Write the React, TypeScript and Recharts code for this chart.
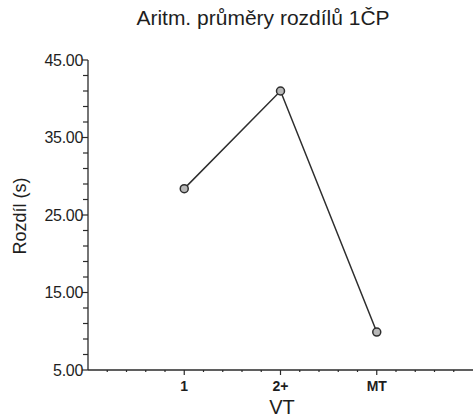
import React from 'react';
import { LineChart, Line, XAxis, YAxis } from 'recharts';

const categories = ['1', '2+', 'MT'];
const positions = [1, 2, 3];
const values = [28.4, 41.0, 9.9];
const yTicks = [5, 7, 9, 11, 13, 15, 17, 19, 21, 23, 25, 27, 29, 31, 33, 35, 37, 39, 41, 43, 45];
const yMajor = [5, 15, 25, 35, 45];
const xTicks = [0.2, 0.4, 0.6, 0.8, 1, 1.2, 1.4, 1.6, 1.8, 2, 2.2, 2.4, 2.6, 2.8, 3, 3.2, 3.4, 3.6, 3.8];
const xMajor = [1, 2, 3];
const title = 'Aritm. průměry rozdílů 1ČP';
const xTitle = 'VT';
const yTitle = 'Rozdíl (s)';

const data = positions.map((p, i) => ({ x: p, label: categories[i], value: values[i] }));

const FONT = '"Liberation Sans", Arial, sans-serif';
const AX = '#2a2a2a';
const TXT = '#1e1e1e';

const YTick = (props: any) => {
  const { x, y, payload } = props;
  const major = yMajor.includes(payload.value);
  return (
    <g>
      <line x1={x - (major ? 6 : 5)} x2={x} y1={y} y2={y} stroke={AX} strokeWidth={1.2} />
      {major && (
        <text x={x - 5} y={y + 5.5} textAnchor="end" fontSize={16} fill={TXT} fontFamily={FONT} letterSpacing={-0.3}>
          {payload.value.toFixed(2)}
        </text>
      )}
    </g>
  );
};

const XTick = (props: any) => {
  const { x, y, payload } = props;
  const v = Math.round(payload.value * 10) / 10;
  const major = xMajor.includes(v);
  const idx = positions.indexOf(v);
  return (
    <g>
      <line x1={x} x2={x} y1={y} y2={y + (major ? 5 : 2)} stroke={AX} strokeWidth={1.2} />
      {major && idx >= 0 && (
        <text x={x} y={y + 21} textAnchor="middle" fontSize={14} fontWeight="bold" fill={TXT} fontFamily={FONT}>
          {categories[idx]}
        </text>
      )}
    </g>
  );
};

export default function App() {
  return (
    <div style={{ position: 'absolute', left: 0, top: 0, width: 473, height: 417, background: '#fff' }}>
      <LineChart width={473} height={417} data={data} margin={{ top: 60, right: 0, bottom: 0, left: 0 }}>
        <XAxis
          dataKey="x"
          type="number"
          domain={[0, 4]}
          ticks={xTicks}
          tick={<XTick />}
          tickLine={false}
          tickSize={0}
          tickMargin={0}
          height={47}
          stroke={AX}
          strokeWidth={1.3}
          interval={0}
        />
        <YAxis
          type="number"
          domain={[5, 45]}
          ticks={yTicks}
          tick={<YTick />}
          tickLine={false}
          tickSize={0}
          tickMargin={0}
          width={88}
          stroke={AX}
          strokeWidth={1.3}
          interval={0}
        />
        <Line
          dataKey="value"
          stroke="#2e2e2e"
          strokeWidth={1.5}
          isAnimationActive={false}
          dot={{ r: 4, fill: '#b8b8b8', stroke: '#2e2e2e', strokeWidth: 1.5 }}
        />
      </LineChart>
      <svg width={473} height={417} style={{ position: 'absolute', left: 0, top: 0, pointerEvents: 'none' }}>
        <text x={263} y={25} textAnchor="middle" fontSize={21} fill={TXT} fontFamily={FONT}>
          {title}
        </text>
        <text x={282} y={414} textAnchor="middle" fontSize={20} fill={TXT} fontFamily={FONT}>
          {xTitle}
        </text>
        <text x={26} y={216} textAnchor="middle" fontSize={18} fill={TXT} fontFamily={FONT} transform="rotate(-90 26 216)">
          {yTitle}
        </text>
      </svg>
    </div>
  );
}
